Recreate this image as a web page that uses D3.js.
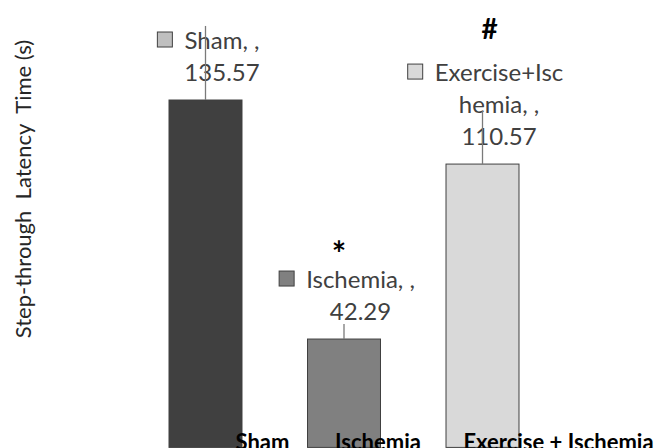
<!DOCTYPE html>
<html>
<head>
<meta charset="utf-8">
<script src="https://cdn.jsdelivr.net/npm/d3@7"></script>
<style>
  html, body { margin: 0; padding: 0; background: #fff; }
  svg { display: block; }
  text { font-family: Lato, "Open Sans", sans-serif; }
</style>
</head>
<body>
<div id="chart"></div>
<script>
// Step-through latency per group
const categories = ["Sham", "Ischemia", "Exercise+Ischemia"];
const axisLabels = ["Sham", "Ischemia", "Exercise + Ischemia"];
const values = [135.57, 42.29, 110.57];
const errors = [28.9, 5.9, 20.7];
const markers = ["", "*", "#"];
const barColors = ["#404040", "#808080", "#d9d9d9"];
const keyColors = ["#bfbfbf", "#808080", "#d9d9d9"];
const yTitle = "Step-through\u00a0\u00a0Latency\u00a0\u00a0Time (s)";

const W = 655, H = 448;
// horizontal nudge of each category label under the plot
const axisLabelShift = [57, 34, 76];
// marker placement and size
const markerShift = [0, -5, 7];
const markerBase = [0, 266, 39];
const markerSize = [0, 34, 28];

const svg = d3.select("#chart").append("svg")
  .attr("width", W).attr("height", H);

const x = d3.scaleBand()
  .domain(categories)
  .range([99.75, 588.25])
  .paddingInner(0.473)
  .paddingOuter(0.5);

const y = d3.scaleLinear()
  .domain([0, 174.6])
  .range([447.4, 0]);

const g = svg.append("g");

// bars
g.selectAll("rect.bar")
  .data(categories)
  .join("rect")
  .attr("class", "bar")
  .attr("x", d => x(d))
  .attr("width", x.bandwidth())
  .attr("y", (d, i) => y(values[i]))
  .attr("height", (d, i) => y(0) - y(values[i]))
  .attr("fill", (d, i) => barColors[i])
  .attr("stroke", "#404040")
  .attr("stroke-width", 1);

// data labels: legend key + name + value, wrapped like the spreadsheet label box
const LINE = 32, FS = 24, KEY = 15, GAP = 12;
function wrapName(s) {
  const out = [];
  for (let i = 0; i < s.length; i += 12) out.push(s.slice(i, i + 12));
  return out;
}
categories.forEach((c, i) => {
  const lines = wrapName(c + ", ,").concat([d3.format(".2f")(values[i])]);
  const cx = x(c) + x.bandwidth() / 2;
  const lastBase = y(values[i]) - 19;
  const firstBase = lastBase - LINE * (lines.length - 1);
  const lg = g.append("g");
  const t = lg.append("text")
    .attr("font-size", FS)
    .attr("fill", "#404040")
    .attr("text-anchor", "middle");
  t.selectAll("tspan").data(lines).join("tspan")
    .attr("x", 0)
    .attr("y", (d, k) => firstBase + k * LINE)
    .text(d => d);
  const tw = t.node().getBBox().width;
  const blockW = KEY + GAP + tw;
  const left = cx + 3 - blockW / 2;
  t.attr("transform", `translate(${left + KEY + GAP + tw / 2},0)`);
  lg.append("rect")
    .attr("x", left)
    .attr("y", firstBase - 17)
    .attr("width", KEY)
    .attr("height", KEY)
    .attr("fill", keyColors[i])
    .attr("stroke", "#404040")
    .attr("stroke-width", 1);
});

// error bars
g.selectAll("line.err")
  .data(categories)
  .join("line")
  .attr("class", "err")
  .attr("x1", d => x(d) + x.bandwidth() / 2)
  .attr("x2", d => x(d) + x.bandwidth() / 2)
  .attr("y1", (d, i) => y(values[i]))
  .attr("y2", (d, i) => y(values[i] + errors[i]))
  .attr("stroke", "#7a7a7a")
  .attr("stroke-width", 1.3);

// significance markers
g.selectAll("text.mark")
  .data(categories.filter((d, i) => markers[i]))
  .join("text")
  .attr("class", "mark")
  .each(function (d) {
    const i = categories.indexOf(d);
    d3.select(this)
      .attr("x", x(d) + x.bandwidth() / 2 + markerShift[i])
      .attr("y", markerBase[i])
      .attr("font-size", markerSize[i])
      .text(markers[i]);
  })
  .attr("text-anchor", "middle")
  .attr("font-weight", "bold")
  .attr("fill", "#000");

// category labels
g.selectAll("text.cat")
  .data(categories)
  .join("text")
  .attr("class", "cat")
  .attr("x", (d, i) => x(d) + x.bandwidth() / 2 + axisLabelShift[i])
  .attr("y", 450)
  .attr("text-anchor", "middle")
  .attr("font-size", 22)
  .attr("font-weight", "bold")
  .attr("fill", "#000")
  .text((d, i) => axisLabels[i]);

// y axis title
svg.append("text")
  .attr("transform", "translate(31,189) rotate(-90)")
  .attr("text-anchor", "middle")
  .attr("font-size", 22)
  .attr("fill", "#262626")
  .text(yTitle);
</script>
</body>
</html>
